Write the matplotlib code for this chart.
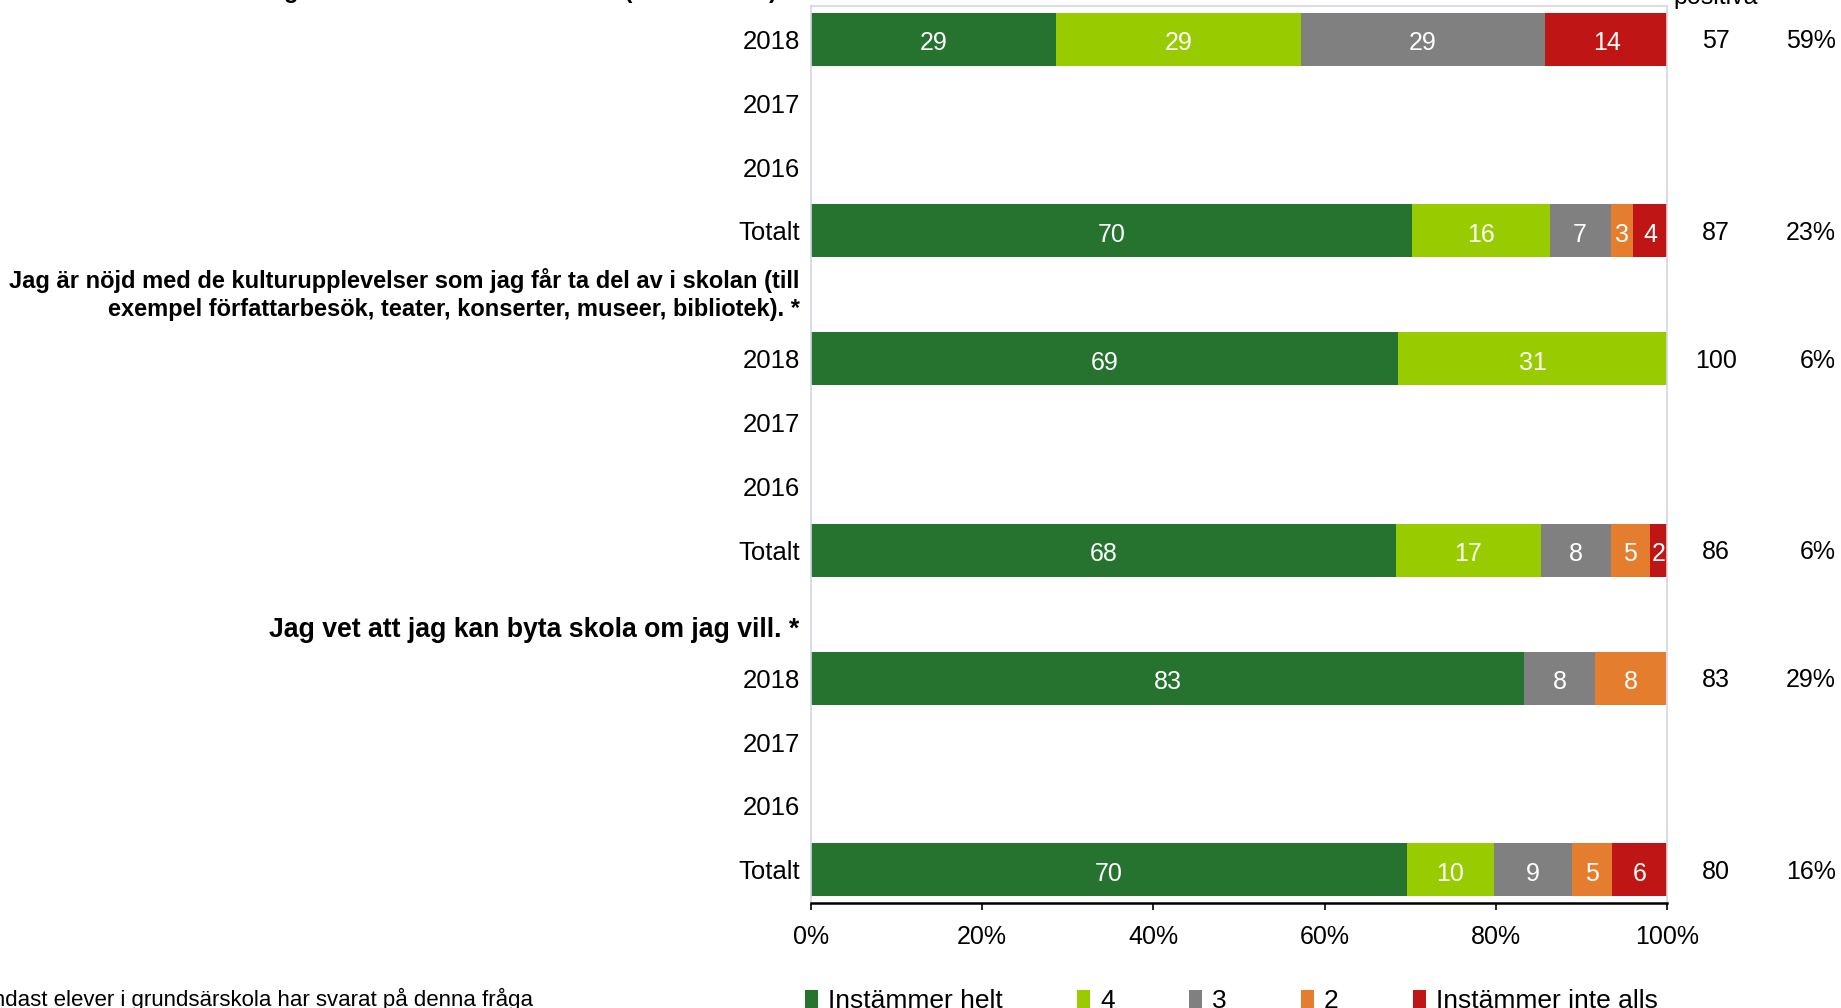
import matplotlib
matplotlib.use("Agg")
import matplotlib.pyplot as plt
from matplotlib.patches import Patch
from matplotlib.transforms import blended_transform_factory

plt.rcParams['font.family'] = ['Liberation Sans', 'DejaVu Sans']

categories = ["Instämmer helt", "4", "3", "2", "Instämmer inte alls"]
colors = ["#267330", "#99CC00", "#808080", "#E47D2E", "#C01515"]
row_labels = ["2018", "2017", "2016", "Totalt"]

questions = [
    "Jag får vara med och bestämma om det vi\n"
    "gör i klassrådet och elevrådet (med rektorn). *",
    "Jag är nöjd med de kulturupplevelser som jag får ta del av i skolan (till\n"
    "exempel författarbesök, teater, konserter, museer, bibliotek). *",
    "Jag vet att jag kan byta skola om jag vill. *",
]
title_sizes = [17, 17, 19.2]

# shares per row: [helt, 4, 3, 2, inte alls]; None = no answers that year
q1_values = [[28.6, 28.6, 28.6, 0, 14.3], None, None, [70.2, 16.1, 7.1, 2.6, 4.0]]
q2_values = [[68.6, 31.4, 0, 0, 0], None, None, [68.3, 17.0, 8.1, 4.6, 2.0]]
q3_values = [[83.3, 0, 8.3, 8.3, 0], None, None, [69.6, 10.2, 9.1, 4.7, 6.4]]

q1_positive = ["57", "", "", "87"]
q2_positive = ["100", "", "", "86"]
q3_positive = ["83", "", "", "80"]

q1_share = ["59%", "", "", "23%"]
q2_share = ["6%", "", "", "6%"]
q3_share = ["29%", "", "", "16%"]

all_values = [q1_values, q2_values, q3_values]
all_positive = [q1_positive, q2_positive, q3_positive]
all_share = [q1_share, q2_share, q3_share]

fig = plt.figure(figsize=(18.41, 10.08), dpi=100)
ax = fig.add_axes([811 / 1841, 1 - 903 / 1008, 856 / 1841, 897 / 1008])

fs = 18
label_x = blended_transform_factory(ax.transAxes, ax.transData)
right_x = blended_transform_factory(fig.transFigure, ax.transData)
bar_drop = -8     # points, puts the digits' middle on the bar's middle
side_drop = -6.5

ticks, tick_labels = [], []
for qi, (title, values, pos, share) in enumerate(
        zip(questions, all_values, all_positive, all_share)):
    head = qi * 5
    # the last line of each heading sits at the same height
    shift = 0.0 if "\n" in title else 0.25
    ax.text(-0.0135, head + shift, title, transform=label_x, ha='right',
            va='center', fontsize=title_sizes[qi], fontweight='bold',
            multialignment='right', linespacing=1.3, clip_on=False)
    for ri, name in enumerate(row_labels):
        y = head + 1 + ri
        ticks.append(y)
        tick_labels.append(name)
        row = values[ri]
        if row is not None:
            left = 0
            for ci, v in enumerate(row):
                if v > 0:
                    ax.barh(y, v, left=left, height=0.83, color=colors[ci],
                            edgecolor='none')
                    ax.annotate(str(round(v)), (left + v / 2, y),
                                xytext=(0, bar_drop), textcoords='offset points',
                                ha='center', va='baseline', color='white',
                                fontsize=fs)
                left += v
        if pos[ri]:
            ax.annotate(pos[ri], (1716 / 1841, y), xycoords=right_x,
                        xytext=(0, side_drop), textcoords='offset points',
                        ha='center', va='baseline', fontsize=fs,
                        annotation_clip=False)
        if share[ri]:
            ax.annotate(share[ri], (1836 / 1841, y), xycoords=right_x,
                        xytext=(0, side_drop), textcoords='offset points',
                        ha='right', va='baseline', fontsize=fs,
                        annotation_clip=False)

fig.text(1716 / 1841, 1 - 4 / 1008, "Andel\npositiva", ha='center',
         va='baseline', fontsize=fs)

ax.set_xlim(0, 100)
ax.set_ylim(14.52, 0.48)
ax.set_yticks(ticks)
ax.set_yticklabels(tick_labels, fontsize=18.5)
ax.tick_params(axis='y', length=0, pad=8)
ax.set_xticks([0, 20, 40, 60, 80, 100])
ax.set_xticklabels([f"{t}%" for t in [0, 20, 40, 60, 80, 100]], fontsize=fs)
ax.tick_params(axis='x', direction='out', length=5, width=1.2, pad=11)
for side in ['left', 'top', 'right']:
    ax.spines[side].set_color('#D4D6E2')
    ax.spines[side].set_linewidth(1.2)
ax.spines['bottom'].set_color('black')
ax.spines['bottom'].set_linewidth(1.8)

handles = [Patch(facecolor=c, edgecolor='none') for c in colors]
fig.legend(handles, categories, loc='center left',
           bbox_to_anchor=(805 / 1841, 1 - 1001 / 1008), ncol=5, frameon=False,
           fontsize=19, handlelength=0.5, handleheight=0.7, handletextpad=0.37,
           columnspacing=2.82, borderpad=0, borderaxespad=0)

fig.text(533 / 1841, 1 - 999 / 1008,
         "Endast elever i grundsärskola har svarat på denna fråga",
         ha='right', va='center', fontsize=16)

fig.savefig("out.png", dpi=100)
